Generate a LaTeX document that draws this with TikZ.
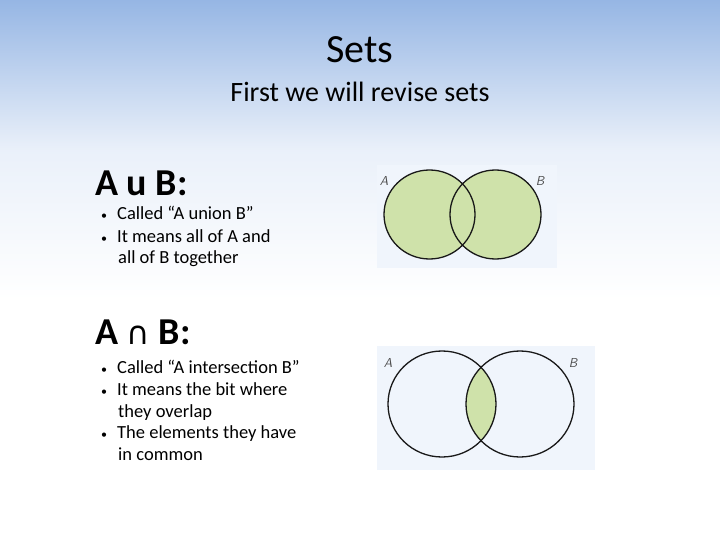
\documentclass[tikz,border=0pt]{standalone}
\usepackage{fontspec}
\setmainfont{Carlito}
\newfontfamily\symfont{DejaVu Sans}
\usepackage{xcolor}
\definecolor{skyblue}{RGB}{150,182,228}
\definecolor{setgreen}{RGB}{207,226,170}
\definecolor{boxbg}{RGB}{240,245,252}
\newcommand{\bdot}{{\fontsize{12}{14}\selectfont•}\hspace{10pt}}
\tikzset{
  bul/.style={anchor=base west, font=\fontsize{18.5}{22}\selectfont, inner sep=0pt, align=left},
  setlbl/.style={font=\sffamily\itshape\fontsize{13}{15}\selectfont, text=black!70},
  ring/.style={draw=black!90, line width=1.3pt}
}
\begin{document}
\begin{tikzpicture}[x=1pt,y=-1pt]
        \shade[top color=skyblue, bottom color=white, middle color=white!80!skyblue] (0,0) rectangle (720,300);
        \fill[white] (0,300) rectangle (720,540);
        \useasboundingbox (0,0) rectangle (720,540);

        \node (title) at (360,50) {\fontsize{40}{46}\selectfont Sets};
        \node (sub) at (360,92) {\fontsize{28}{33}\selectfont First we will revise sets};

        % union
        \node[anchor=west, inner sep=0pt] (uhead) at (95,183) {\fontsize{38}{44}\selectfont\bfseries A u B:};
        \node[bul] (u1) at (101,220) {\bdot Called “A union B”};
        \node[bul] (u2) at (101,242) {\bdot It means all of A and};
        \node[bul] (u3) at (118,263) {all of B together};

        \fill[boxbg] (377,165) rectangle (557,268);
        \fill[setgreen] (429.5,214.5) ellipse (45.5 and 44.5);
        \fill[setgreen] (495.5,214.5) ellipse (45.5 and 44.5);
        \draw[ring] (429.5,214.5) ellipse (45.5 and 44.5);
        \draw[ring] (495.5,214.5) ellipse (45.5 and 44.5);
        \node[setlbl] (ua) at (384,181) {A};
        \node[setlbl] (ub) at (540,181) {B};

        % intersection
        \node[anchor=west, inner sep=0pt] (ihead) at (95,332) {\fontsize{38}{44}\selectfont\bfseries A {\symfont\mdseries\fontsize{32}{38}\selectfont ∩} B:};
        \node[bul] (i1) at (101,373) {\bdot Called “A intersection B”};
        \node[bul] (i2) at (101,395) {\bdot It means the bit where};
        \node[bul] (i3) at (118,417) {they overlap};
        \node[bul] (i4) at (101,438) {\bdot The elements they have};
        \node[bul] (i5) at (118,460) {in common};

        \fill[boxbg] (377,346) rectangle (595,470);
        \begin{scope}
          \clip (442,404) ellipse (54 and 53);
          \fill[setgreen] (520,404) ellipse (54 and 53);
        \end{scope}
        \draw[ring] (442,404) ellipse (54 and 53);
        \draw[ring] (520,404) ellipse (54 and 53);
        \node[setlbl] (ia) at (388,363) {A};
        \node[setlbl] (ib) at (573,363) {B};
    \end{tikzpicture}
\end{document}
